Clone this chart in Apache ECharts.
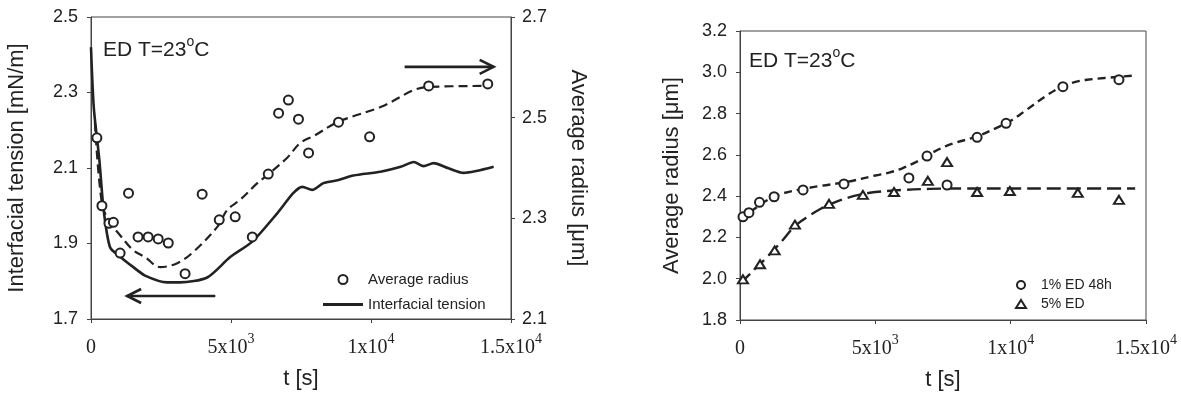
<!DOCTYPE html>
<html>
<head>
<meta charset="utf-8">
<script src="https://cdn.jsdelivr.net/npm/echarts@6/dist/echarts.min.js"></script>
<style>html,body{margin:0;padding:0;background:#fff;}#c{width:1181px;height:396px;}</style>
</head>
<body>
<div id="c"></div>
<script>
// ---- Left chart data ----
const tensionT = [0, 100, 300, 450, 680, 1040, 1500, 1930, 2720, 3180, 4150, 4970, 5760, 6650, 7230, 7550, 7900, 8300, 8840, 9370, 10340, 11060, 11530, 11880, 12240, 12740, 13310, 14380];
const tensionV = [2.42, 2.26, 2.12, 1.99, 1.89, 1.865, 1.838, 1.815, 1.797, 1.797, 1.81, 1.864, 1.905, 1.98, 2.034, 2.05, 2.042, 2.06, 2.068, 2.08, 2.09, 2.103, 2.116, 2.105, 2.113, 2.10, 2.087, 2.103];
const radFitT = [140, 390, 680, 970, 1500, 1930, 2470, 3080, 3650, 4510, 4870, 5330, 5940, 6300, 7000, 7480, 8000, 8800, 10340, 12020, 14170];
const radFitV = [2.49, 2.33, 2.29, 2.271, 2.237, 2.223, 2.203, 2.211, 2.233, 2.283, 2.317, 2.337, 2.37, 2.386, 2.42, 2.45, 2.465, 2.491, 2.521, 2.561, 2.563];
const radT = [210, 390, 640, 800, 1040, 1340, 1680, 2040, 2400, 2760, 3360, 3970, 4580, 5150, 5760, 6330, 6700, 7050, 7410, 7770, 8840, 9950, 12060, 14170];
const radV = [2.46, 2.325, 2.29, 2.292, 2.231, 2.35, 2.263, 2.263, 2.259, 2.251, 2.19, 2.348, 2.297, 2.303, 2.263, 2.388, 2.509, 2.535, 2.497, 2.43, 2.491, 2.462, 2.563, 2.567];

// ---- Right chart data ----
const ed1T = [110, 330, 720, 1260, 2330, 3840, 6240, 6910, 7650, 8760, 9830, 11930, 14000];
const ed1V = [2.30, 2.32, 2.37, 2.397, 2.43, 2.459, 2.488, 2.594, 2.454, 2.685, 2.753, 2.93, 2.964];
const ed5T = [110, 740, 1280, 2030, 3290, 4540, 5690, 6940, 7650, 8760, 9970, 12480, 14000];
const ed5V = [1.997, 2.07, 2.137, 2.262, 2.363, 2.406, 2.42, 2.474, 2.565, 2.42, 2.425, 2.416, 2.382];
const fit1T = [0, 500, 1000, 1500, 2330, 3000, 3950, 5000, 5540, 6000, 6500, 6910, 7130, 7650, 8000, 8760, 9600, 10000, 10500, 11300, 11820, 12300, 12820, 14480];
const fit1V = [2.285, 2.335, 2.38, 2.41, 2.435, 2.45, 2.469, 2.50, 2.515, 2.535, 2.565, 2.594, 2.612, 2.645, 2.66, 2.69, 2.738, 2.765, 2.81, 2.885, 2.926, 2.95, 2.964, 2.983];
const fit5T = [0, 500, 1000, 1500, 2030, 2500, 3000, 3500, 4000, 4540, 5000, 6000, 7000, 8000, 10000, 12000, 14600];
const fit5V = [1.975, 2.04, 2.105, 2.175, 2.255, 2.30, 2.34, 2.37, 2.393, 2.41, 2.42, 2.43, 2.435, 2.437, 2.437, 2.437, 2.437];

// ---- Tick labels ----
const xTickValues = [0, 5000, 10000, 15000];
const xTickText = ['{b|0}', '{b|5x10}{s|3}', '{b|1x10}{s|4}', '{b|1.5x10}{s|4}'];
const yLeftTicks = [1.7, 1.9, 2.1, 2.3, 2.5];
const yRightTicks = [2.1, 2.3, 2.5, 2.7];
const yR2Ticks = [1.8, 2.0, 2.2, 2.4, 2.6, 2.8, 3.0, 3.2];

// ---- Annotation arrows (data coordinates) ----
const arrowLeft = { y: 0, from: [4440, 1.761], to: [1290, 1.761] };
const arrowRight = { y: 1, from: [11200, 2.601], to: [14380, 2.601] };

const zip = (a, b) => a.map((v, i) => [v, b[i]]);
const INK = '#222';
const AX = '#444';
const SANS = 'Liberation Sans';
const SERIF = 'Liberation Serif';

function mkX(gi) {
  return {
    type: 'value', gridIndex: gi, min: 0, max: 15000, interval: 5000,
    axisLine: { lineStyle: { color: AX, width: 1 } },
    axisTick: { length: 4, lineStyle: { color: AX }, customValues: xTickValues },
    splitLine: { show: false },
    axisLabel: {
      customValues: xTickValues, margin: 13, color: INK,
      formatter: v => xTickText[xTickValues.indexOf(v)],
      rich: {
        b: { fontFamily: SERIF, fontSize: 20, color: INK, lineHeight: 26, verticalAlign: 'bottom' },
        s: { fontFamily: SERIF, fontSize: 14, color: INK, lineHeight: 14, verticalAlign: 'top' }
      }
    },
    name: 't [s]', nameLocation: 'middle', nameGap: 49,
    nameTextStyle: { fontFamily: SANS, fontSize: 22, color: INK }
  };
}
function mkY(gi, pos, min, max, ticks, name, gap, rot) {
  return {
    type: 'value', gridIndex: gi, position: pos, min: min, max: max,
    axisLine: { show: true, lineStyle: { color: AX, width: 1 } },
    axisTick: { show: true, length: 4, lineStyle: { color: AX }, customValues: ticks },
    splitLine: { show: false },
    axisLabel: {
      customValues: ticks, margin: pos === 'left' ? 13 : 11, color: INK,
      fontFamily: SANS, fontSize: 18,
      formatter: v => v.toFixed(1)
    },
    name: name, nameLocation: 'middle', nameGap: gap, nameRotate: rot,
    nameTextStyle: { fontFamily: SANS, fontSize: 22, color: INK }
  };
}

const titleRich = {
  a: { fontFamily: SANS, fontSize: 21, fontWeight: 'normal', color: INK, lineHeight: 26, verticalAlign: 'bottom' },
  s: { fontFamily: SANS, fontSize: 14, fontWeight: 'normal', color: INK, lineHeight: 14, verticalAlign: 'top' }
};

const option = {
  animation: false,
  backgroundColor: '#fff',
  title: [
    { text: '{a|ED T=23}{s|o}{a|C}', left: 98, top: 30, textStyle: { fontWeight: 'normal', rich: titleRich } },
    { text: '{a|ED T=23}{s|o}{a|C}', left: 744, top: 41, textStyle: { fontWeight: 'normal', rich: titleRich } }
  ],
  grid: [
    { left: 91, top: 17, width: 420, height: 302, show: true, borderColor: AX, borderWidth: 1, backgroundColor: 'transparent' },
    { left: 740, top: 31, width: 406, height: 291, show: true, borderColor: AX, borderWidth: 1, backgroundColor: 'transparent' }
  ],
  xAxis: [mkX(0), mkX(1)],
  yAxis: [
    mkY(0, 'left', 1.7, 2.5, yLeftTicks, 'Interfacial tension [mN/m]', 63, 90),
    mkY(0, 'right', 2.1, 2.7, yRightTicks, 'Average radius [\u03bcm]', 56, -90),
    mkY(1, 'left', 1.8, 3.2, yR2Ticks, 'Average radius [\u03bcm]', 57, 90)
  ],
  legend: [
    {
      data: [
        { name: 'Average radius' },
        { name: 'Interfacial tension', icon: 'path://M0 0 L40 0 L40 3 L0 3 Z' }
      ],
      left: 318, top: 267, orient: 'vertical',
      itemWidth: 40, itemHeight: 9, itemGap: 10, selectedMode: false,
      textStyle: { fontFamily: SANS, fontSize: 15, color: INK, padding: [0, 0, 0, 0] }
    },
    {
      data: ['1% ED 48h', '5% ED'], left: 1010, top: 273, orient: 'vertical',
      itemWidth: 10, itemHeight: 8, itemGap: 5, selectedMode: false,
      textStyle: { fontFamily: SANS, fontSize: 14, color: INK, padding: [0, 0, 0, 10] }
    }
  ],
  series: [
    {
      name: 'Interfacial tension', type: 'line', xAxisIndex: 0, yAxisIndex: 0,
      data: zip(tensionT, tensionV), smooth: 0.25, symbol: 'none', showSymbol: false,
      lineStyle: { color: INK, width: 2.6 }, itemStyle: { color: INK }, z: 3
    },
    {
      name: 'radFit', type: 'line', xAxisIndex: 0, yAxisIndex: 1,
      data: zip(radFitT, radFitV), smooth: 0.35, symbol: 'none', showSymbol: false,
      lineStyle: { color: INK, width: 2.2, type: [9, 5] }, itemStyle: { color: INK }, z: 3
    },
    {
      name: 'Average radius', type: 'scatter', xAxisIndex: 0, yAxisIndex: 1,
      data: zip(radT, radV), symbol: 'emptyCircle', symbolSize: 9,
      itemStyle: { color: INK, borderColor: INK, borderWidth: 1.3, opacity: 1 }, z: 4
    },
    {
      name: 'fit1', type: 'line', xAxisIndex: 1, yAxisIndex: 2,
      data: zip(fit1T, fit1V), smooth: 0.35, symbol: 'none', showSymbol: false,
      lineStyle: { color: INK, width: 2.4, type: [8, 5] }, itemStyle: { color: INK }, z: 3
    },
    {
      name: 'fit5', type: 'line', xAxisIndex: 1, yAxisIndex: 2,
      data: zip(fit5T, fit5V), smooth: 0.35, symbol: 'none', showSymbol: false,
      lineStyle: { color: INK, width: 2.4, type: [14, 6] }, itemStyle: { color: INK }, z: 3
    },
    {
      name: '1% ED 48h', type: 'scatter', xAxisIndex: 1, yAxisIndex: 2,
      data: zip(ed1T, ed1V), symbol: 'emptyCircle', symbolSize: 9,
      itemStyle: { color: INK, borderColor: INK, borderWidth: 1.3, opacity: 1 }, z: 4
    },
    {
      name: '5% ED', type: 'scatter', xAxisIndex: 1, yAxisIndex: 2,
      data: zip(ed5T, ed5V), symbol: 'emptyTriangle', symbolSize: [10, 8],
      itemStyle: { color: INK, borderColor: INK, borderWidth: 1.3, opacity: 1 }, z: 4
    }
  ]
};

const chart = echarts.init(document.getElementById('c'), null, { renderer: 'canvas' });
chart.setOption(option);

function arrowGraphics(a) {
  const p1 = chart.convertToPixel({ xAxisIndex: 0, yAxisIndex: a.y }, a.from);
  const p2 = chart.convertToPixel({ xAxisIndex: 0, yAxisIndex: a.y }, a.to);
  const dx = p2[0] - p1[0], dy = p2[1] - p1[1];
  const L = Math.sqrt(dx * dx + dy * dy);
  const ux = dx / L, uy = dy / L, nx = -uy, ny = ux;
  const hl = 14, hw = 7;
  const h1 = [p2[0] - ux * hl + nx * hw, p2[1] - uy * hl + ny * hw];
  const h2 = [p2[0] - ux * hl - nx * hw, p2[1] - uy * hl - ny * hw];
  const st = { stroke: INK, lineWidth: 2.6, fill: null };
  return [
    { type: 'polyline', shape: { points: [p1, p2] }, style: st, z: 10 },
    { type: 'polyline', shape: { points: [h1, p2, h2] }, style: st, z: 10 }
  ];
}
chart.setOption({ graphic: [...arrowGraphics(arrowLeft), ...arrowGraphics(arrowRight)] });
</script>
</body>
</html>
